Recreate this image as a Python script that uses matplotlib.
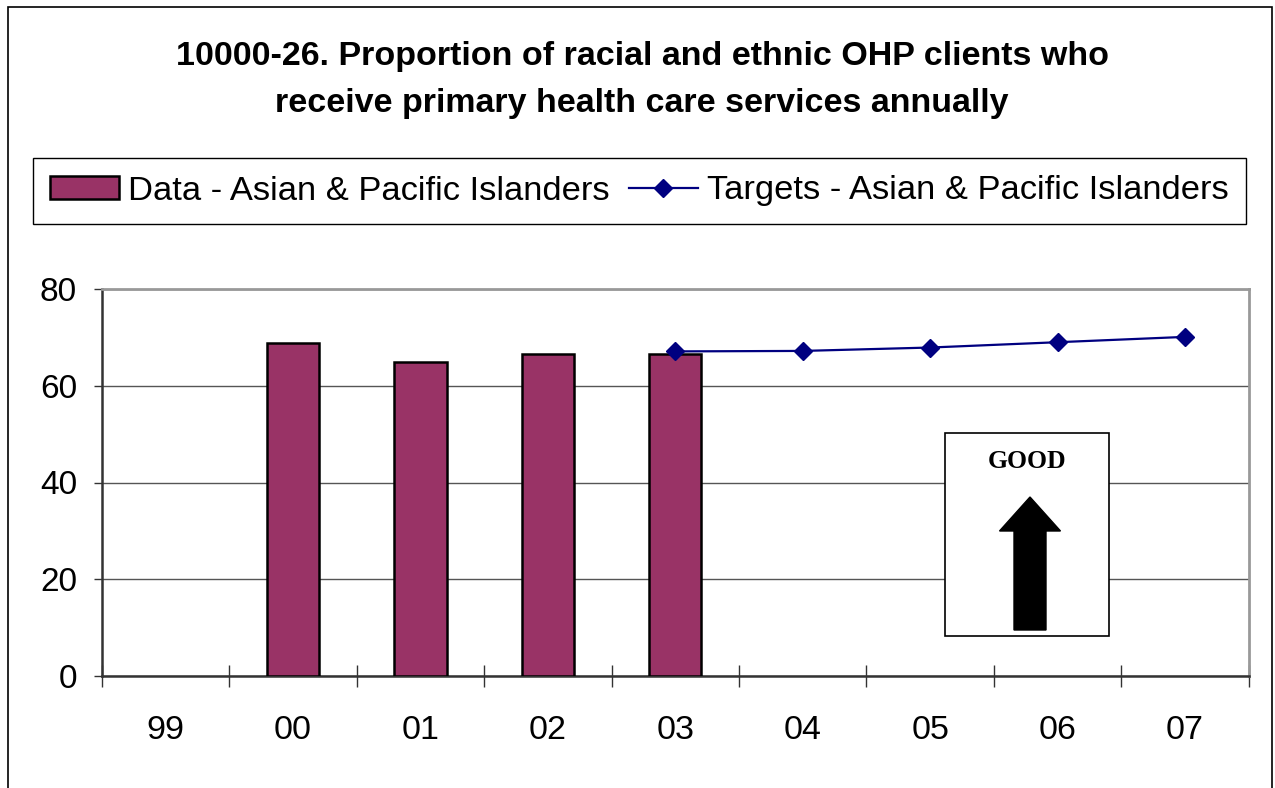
import matplotlib
matplotlib.use("Agg")
import matplotlib.pyplot as plt
from matplotlib.patches import Rectangle, FancyArrow
from matplotlib.lines import Line2D
import numpy as np

plt.rcParams['font.family'] = ['Liberation Sans', 'DejaVu Sans']

title = "10000-26. Proportion of racial and ethnic OHP clients who\nreceive primary health care services annually"
years = ["99", "00", "01", "02", "03", "04", "05", "06", "07"]
data_years = ["00", "01", "02", "03"]
data_values = [68.9, 64.9, 66.6, 66.5]
target_years = ["03", "04", "05", "06", "07"]
target_values = [67.1, 67.2, 67.9, 69.0, 70.1]
yticks = [0, 20, 40, 60, 80]

W, H = 1275, 788
fig = plt.figure(figsize=(W / 100, H / 100), dpi=100)

# outer frame
fig.add_artist(Rectangle((8 / W, -0.05), (1272 - 8) / W, 1 - 7 / H + 0.05,
                         transform=fig.transFigure, fill=False,
                         edgecolor='black', lw=1.2))

ax = fig.add_axes([102 / W, 1 - 676 / H, (1248.7 - 102) / W, (676 - 289) / H])

xpos = {y: i for i, y in enumerate(years)}
bx = [xpos[y] for y in data_years]
tx = [xpos[y] for y in target_years]

ax.bar(bx, data_values, width=0.41, color='#993366', edgecolor='black',
       linewidth=1.8, zorder=3)
ax.plot(tx, target_values, color='#000080', lw=1.6, marker='D', ms=9,
        markeredgecolor='#000080', markerfacecolor='#000080', zorder=4,
        clip_on=False)

ax.set_xlim(-0.5, len(years) - 0.5)
ax.set_ylim(0, 80)
ax.set_yticks(yticks)
ax.set_yticklabels([str(v) for v in yticks], fontsize=24)
ax.set_xticks(range(len(years)))
ax.set_xticklabels(years, fontsize=24.5)
ax.tick_params(axis='x', which='major', length=0, pad=28)
ax.set_xticks(np.arange(-0.5, len(years), 1.0), minor=True)
ax.tick_params(axis='x', which='minor', direction='inout', length=16,
               width=1, color='#333333')
ax.tick_params(axis='y', direction='out', length=6, width=1,
               color='#333333', pad=12)

ax.grid(axis='y', color='#555555', lw=1.0, zorder=0)
ax.set_axisbelow(True)
for s in ['left', 'bottom']:
    ax.spines[s].set_color('#333333')
    ax.spines[s].set_linewidth(1.8)
for s in ['top', 'right']:
    ax.spines[s].set_color('#999999')
    ax.spines[s].set_linewidth(2.0)

fig.text(642 / W, 1 - 80 / H, title, ha='center', va='center',
         fontsize=24.5, fontweight='bold', linespacing=1.65)

handles = [Rectangle((0, 0), 1, 1, facecolor='#993366', edgecolor='black', lw=1.8),
           Line2D([], [], color='#000080', lw=1.6, marker='D', ms=9)]
labels = ["Data - Asian & Pacific Islanders", "Targets - Asian & Pacific Islanders"]
leg = fig.legend(handles, labels, loc='center',
                 bbox_to_anchor=(639.5 / W, 1 - 191 / H), ncol=2,
                 fontsize=24.8, frameon=True, fancybox=False, edgecolor='black',
                 framealpha=1, handlelength=2.0, handleheight=0.62,
                 handletextpad=0.26, columnspacing=0.55, borderpad=0.5,
                 borderaxespad=0)
leg.get_frame().set_linewidth(1.0)

# GOOD box with arrow
box = Rectangle((945 / W, 1 - 636 / H), (1109 - 945) / W, (636 - 433) / H,
                transform=fig.transFigure, facecolor='white', edgecolor='black',
                lw=1.2, zorder=5)
fig.add_artist(box)
fig.text(1027 / W, 1 - 461 / H, "GOOD", ha='center', va='center',
         fontsize=18.5, fontweight='bold', family=['Liberation Serif'], zorder=6)
arrow = FancyArrow(1030 / W, 1 - 630 / H, 0, (630 - 497) / H,
                   width=32 / W, head_width=61 / W, head_length=34 / H,
                   length_includes_head=True, transform=fig.transFigure,
                   color='black', zorder=6)
fig.add_artist(arrow)

fig.savefig("out.png", dpi=100)
